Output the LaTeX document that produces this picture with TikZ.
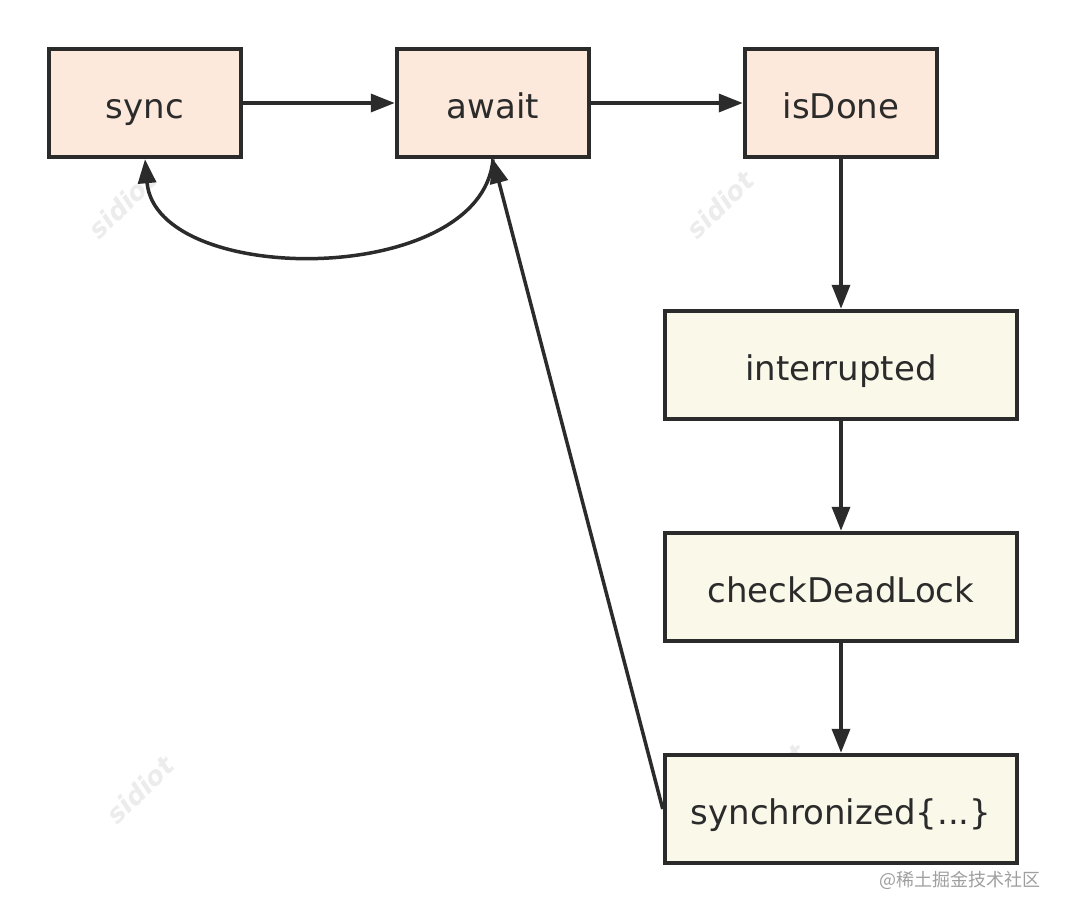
\documentclass[tikz,border=0pt]{standalone}
\usepackage{fontspec}
\setmainfont{DejaVu Sans}
\newfontfamily\cjk{Noto Sans CJK SC}
\usetikzlibrary{arrows.meta}

\definecolor{peach}{HTML}{FCE9DB}
\definecolor{cream}{HTML}{FAF8E9}
\definecolor{ink}{HTML}{2B2B2B}

\tikzset{
  callbox/.style={draw=ink, line width=4.5pt, minimum height=108pt, text height=30pt, text depth=0pt, font=\fontsize{34}{40}\selectfont, text=ink},
  topbox/.style={callbox, fill=peach, minimum width=192pt},
  lowbox/.style={callbox, fill=cream, minimum width=352pt},
  flow/.style={draw=ink, line width=3.5pt, -{Triangle[length=24pt,width=18pt]}},
  wmark/.style={text=gray!15, font=\fontsize{26}{30}\selectfont\bfseries\itshape, rotate=45}
}

\begin{document}
\begin{tikzpicture}[x=1pt, y=-1pt]
  \useasboundingbox[fill=white] (0,0) rectangle (1068,914);

  % faint watermarks
  \node[wmark] (wm1) at (122,205) {sidiot};
  \node[wmark] (wm2) at (720,205) {sidiot};
  \node[wmark] (wm3) at (140,790) {sidiot};
  \node[wmark] (wm4) at (772,778) {sidiot};

  % top row
  \node[topbox] (sync) at (145,103) {sync};
  \node[topbox] (await) at (493,103) {await};
  \node[topbox] (done) at (841,103) {isDone};

  % right column
  \node[lowbox] (intr) at (841,365) {interrupted};
  \node[lowbox] (dead) at (841,587) {checkDeadLock};
  \node[lowbox] (syncblk) at (841,809) {synchronized\{...\}};

  \draw[flow] (sync) -- (await);
  \draw[flow] (await) -- (done);
  \draw[flow] (done) -- (intr);
  \draw[flow] (intr) -- (dead);
  \draw[flow] (dead) -- (syncblk);

  % loop back
  \draw[flow] (await.south) to[out=-95, in=-85, looseness=0.95] (sync.south);
  \draw[flow] (syncblk.west) -- (await.south);

  \node[text=gray!75, font=\cjk\fontsize{18}{20}\selectfont, anchor=east] (site) at (1044,880) {@稀土掘金技术社区};
\end{tikzpicture}
\end{document}
